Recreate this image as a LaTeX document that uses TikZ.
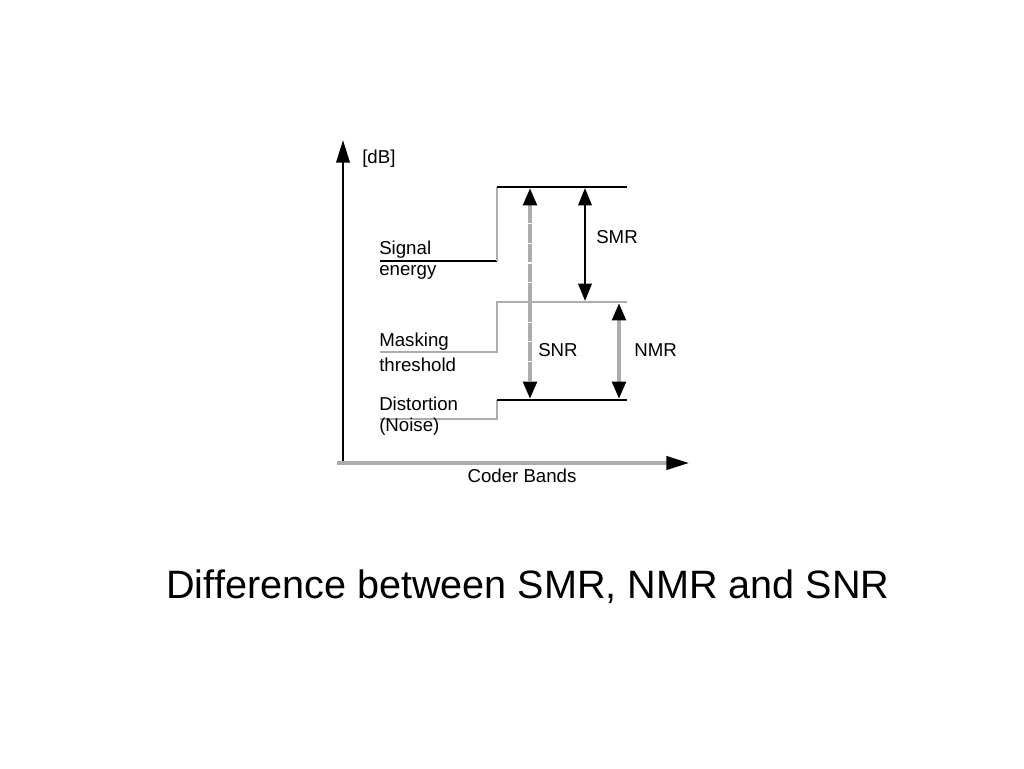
\documentclass[tikz,border=0pt]{standalone}
\usepackage{fontspec}
\setmainfont{Liberation Sans}
\usetikzlibrary{arrows.meta}
\begin{document}
\begin{tikzpicture}[x=0.75pt,y=-0.75pt,
  lbl/.style={inner sep=0pt,anchor=west,font=\fontsize{14pt}{16pt}\selectfont},
  blk/.style={line width=1.9pt,black},
  gry/.style={line width=1.9pt,gray!65},
  dbl/.style={line width=2.4pt,{Triangle[length=13pt,width=10pt,color=black,fill=black]}-{Triangle[length=13pt,width=10pt,color=black,fill=black]}},
  axis/.style={line width=2pt,-{Triangle[length=17pt,width=10pt,color=black,fill=black]}}]
\useasboundingbox (0,0) rectangle (1024,768);
% axes
\coordinate (o) at (343,465);
\coordinate (ytop) at (343,140);
\coordinate (xo) at (337,463);
\coordinate (xend) at (689,463);
\draw[axis,black] (o) -- (ytop);
\draw[axis,gray!65,line width=2.4pt] (xo) -- (xend);
\node[lbl] (db) at (362,159) {[dB]};
\node[lbl,anchor=center] (cb) at (522,476) {Coder Bands};
% step curves
\coordinate (s1) at (380,261); \coordinate (s2) at (497,261);
\coordinate (s3) at (497,187); \coordinate (s4) at (627,187);
\draw[blk] (s1) -- (s2);
\draw[gry] (s2) -- (s3);
\draw[blk] (s3) -- (s4);
\coordinate (m1) at (380,352); \coordinate (m2) at (497,352);
\coordinate (m3) at (497,302); \coordinate (m4) at (627,302);
\draw[gry] (m1) -- (m2) -- (m3) -- (m4);
\coordinate (d1) at (380,419); \coordinate (d2) at (497,419);
\coordinate (d3) at (497,400); \coordinate (d4) at (627,400);
\draw[gry] (d1) -- (d2) -- (d3);
\draw[blk] (d3) -- (d4);
% labels
\node[lbl] (sig) at (379,250) {Signal};
\node[lbl] (ene) at (379,272) {energy};
\node[lbl] (mas) at (379,342) {Masking};
\node[lbl] (thr) at (379,365) {threshold};
\node[lbl] (dis) at (379,404) {Distortion};
\node[lbl] (noi) at (379,427) {(Noise)};
% arrows
\coordinate (snrT) at (530,188); \coordinate (snrB) at (530,399);
\coordinate (smrT) at (585,188); \coordinate (smrB) at (585,301);
\coordinate (nmrT) at (619,303); \coordinate (nmrB) at (619,399);
\draw[dbl,gray!65,line width=3pt,dash pattern=on 14pt off 0.8pt] (snrT) -- (snrB);
\draw[dbl,black,line width=1.9pt] (smrT) -- (smrB);
\draw[dbl,gray!65,line width=3pt] (nmrT) -- (nmrB);
\node[lbl] (snr) at (538,350) {SNR};
\node[lbl] (smr) at (596,237) {SMR};
\node[lbl] (nmr) at (634,350) {NMR};
% caption
\node[inner sep=0pt,font=\fontsize{29.7pt}{34pt}\selectfont] (cap) at (528,587) {Difference between SMR, NMR and SNR};
\end{tikzpicture}
\end{document}
